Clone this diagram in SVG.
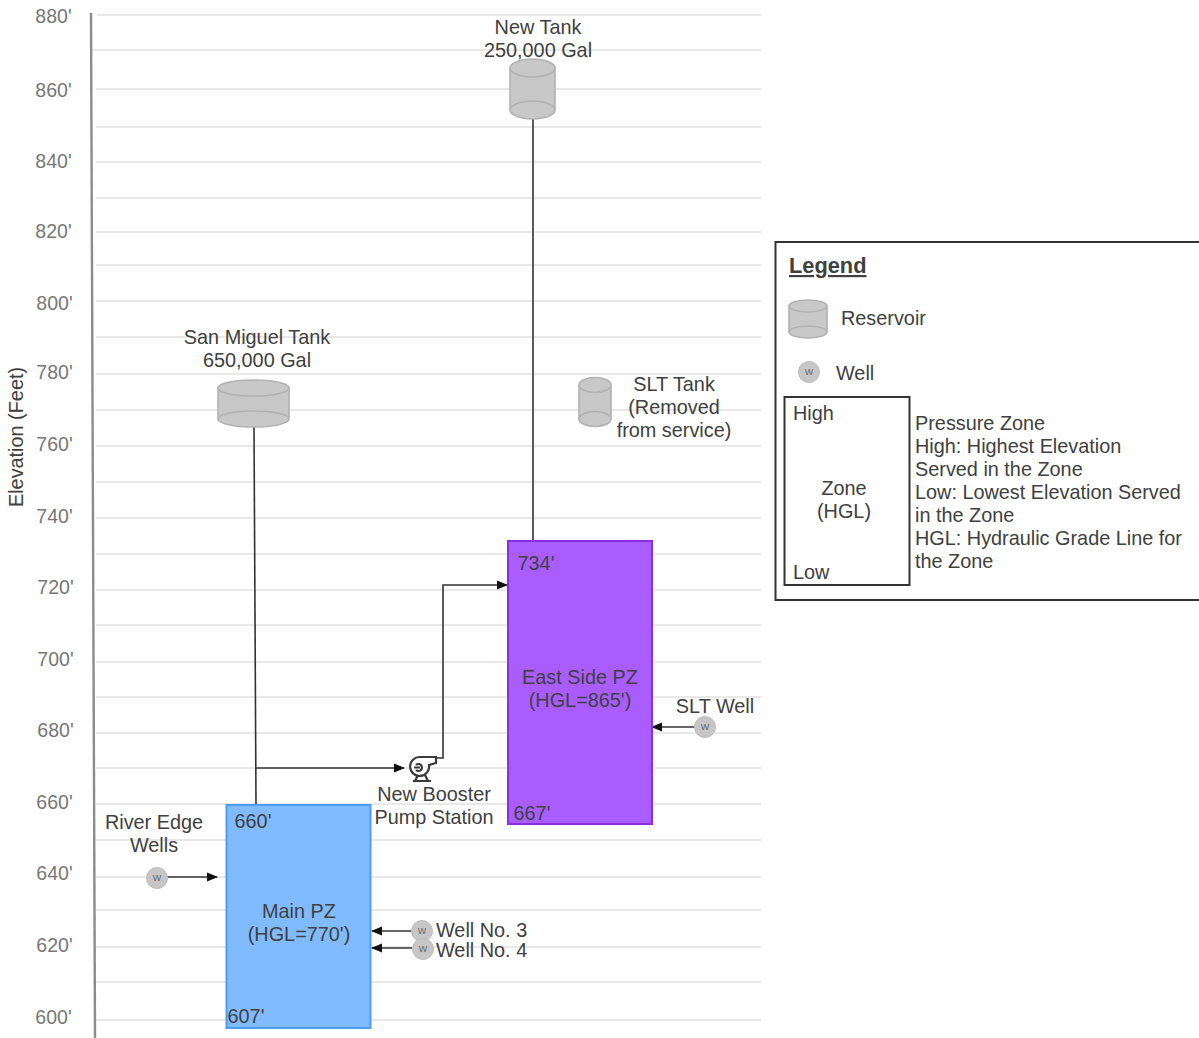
<svg xmlns="http://www.w3.org/2000/svg" width="1199" height="1038" viewBox="0 0 1199 1038">
<defs>
<style>
text{font-family:"Liberation Sans",Arial,sans-serif;font-size:19.85px;fill:#404040;text-anchor:middle}
.ax{fill:#777;font-size:19.5px}
.l{text-anchor:start}
.grid line{stroke:#e0e0e0;stroke-width:1.6}
.conn{fill:none;stroke:#333;stroke-width:1.6}
.tk{fill:#c8c8c8;stroke:#b2b2b2;stroke-width:1.6}
.tl{fill:none;stroke:#b2b2b2;stroke-width:1.6}
.w{fill:#c6c6c6;stroke:#bcbcbc;stroke-width:1}
.wt{font-size:9px;fill:#666}
</style>
<marker id="a" markerWidth="11" markerHeight="10" refX="10" refY="5" orient="auto" markerUnits="userSpaceOnUse"><path d="M0 0.500L11 5L0 9.500Z" fill="#111"/></marker>
</defs>
<rect width="1199" height="1038" fill="#fff"/>
<g class="grid" id="gridlines">
<line x1="97" y1="15" x2="761" y2="15"/><line x1="92" y1="50" x2="761" y2="50"/><line x1="96" y1="89" x2="761" y2="89"/><line x1="96" y1="127" x2="761" y2="127"/><line x1="96" y1="162" x2="761" y2="162"/><line x1="96" y1="198" x2="761" y2="198"/><line x1="96" y1="232" x2="761" y2="232"/><line x1="96" y1="265" x2="761" y2="265"/><line x1="96" y1="301" x2="761" y2="301"/><line x1="96" y1="337" x2="761" y2="337"/><line x1="96" y1="374" x2="761" y2="374"/><line x1="96" y1="410" x2="761" y2="410"/><line x1="96" y1="446" x2="761" y2="446"/><line x1="96" y1="482" x2="761" y2="482"/><line x1="96" y1="518" x2="761" y2="518"/><line x1="96" y1="554" x2="761" y2="554"/><line x1="96" y1="590" x2="761" y2="590"/><line x1="96" y1="625" x2="761" y2="625"/><line x1="96" y1="662" x2="761" y2="662"/><line x1="96" y1="697" x2="761" y2="697"/><line x1="96" y1="733" x2="761" y2="733"/><line x1="96" y1="768" x2="761" y2="768"/><line x1="96" y1="804" x2="761" y2="804"/><line x1="96" y1="840" x2="761" y2="840"/><line x1="96" y1="877" x2="761" y2="877"/><line x1="96" y1="910" x2="761" y2="910"/><line x1="96" y1="947" x2="761" y2="947"/><line x1="96" y1="982" x2="761" y2="982"/><line x1="96" y1="1020" x2="761" y2="1020"/>
</g>
<g id="axis">
<line x1="91" y1="13" x2="95" y2="1038" stroke="#8c8c8c" stroke-width="2.4"/>
<text class="ax" x="53.500" y="23">880'</text><text class="ax" x="53.500" y="97">860'</text><text class="ax" x="53.500" y="168">840'</text><text class="ax" x="53.500" y="238">820'</text><text class="ax" x="54.500" y="310">800'</text><text class="ax" x="54.500" y="379">780'</text><text class="ax" x="54.500" y="451">760'</text><text class="ax" x="54.500" y="523">740'</text><text class="ax" x="55.500" y="594">720'</text><text class="ax" x="55.500" y="666">700'</text><text class="ax" x="55.500" y="737">680'</text><text class="ax" x="54.500" y="809">660'</text><text class="ax" x="54.500" y="880">640'</text><text class="ax" x="54.500" y="952">620'</text><text class="ax" x="53.500" y="1024">600'</text>
<text x="23" y="437" transform="rotate(-90 23 437)">Elevation (Feet)</text>
</g>
<g class="conn" id="connectors">
<path d="M533 118V541"/>
<path d="M254 426L256 805"/>
<path d="M256 768H404" marker-end="url(#a)"/>
<path d="M436 758H443V585H507" marker-end="url(#a)"/>
<path d="M165 877H217" marker-end="url(#a)"/>
<path d="M412 931H372" marker-end="url(#a)"/>
<path d="M412 948H372" marker-end="url(#a)"/>
<path d="M695 727H652" marker-end="url(#a)"/>
</g>
<g id="main-pz"><rect x="226.500" y="805" width="144" height="223" fill="#80bbff" stroke="#4a9df5" stroke-width="2"/><text x="299" y="918">Main PZ</text><text x="299" y="941">(HGL=770')</text><text x="253" y="828" fill="#222">660'</text><text x="246" y="1023" fill="#1d2f55">607'</text></g>
<g id="east-pz"><rect x="508" y="541" width="144" height="283" fill="#a95cff" stroke="#8a2fe0" stroke-width="2"/><text x="580" y="684" fill="#2c1a4a">East Side PZ</text><text x="580" y="707" fill="#2c1a4a">(HGL=865')</text><text x="536" y="570" fill="#2c1a4a">734'</text><text x="532" y="820" fill="#2c1a4a">667'</text></g>
<g id="new-tank"><path class="tk" d="M510 68V110A22.500 9 0 0 0 555 110V68Z"/><ellipse class="tk" cx="532.500" cy="68" rx="22.500" ry="9"/><path class="tl" d="M510 110A22.500 9 0 0 1 555 110"/><text x="538" y="34">New Tank</text><text x="538" y="57">250,000 Gal</text></g>
<g id="san-miguel-tank"><path class="tk" d="M218 388V419A35.500 8 0 0 0 289 419V388Z"/><ellipse class="tk" cx="253.500" cy="388" rx="35.500" ry="8"/><path class="tl" d="M218 419A35.500 8 0 0 1 289 419"/><text x="257" y="344">San Miguel Tank</text><text x="257" y="367">650,000 Gal</text></g>
<g id="slt-tank"><path class="tk" d="M579 385V419A16 7.500 0 0 0 611 419V385Z"/><ellipse class="tk" cx="595" cy="385" rx="16" ry="7.500"/><path class="tl" d="M579 419A16 7.500 0 0 1 611 419"/><text x="674" y="391">SLT Tank</text><text x="674" y="414">(Removed</text><text x="674" y="437">from service)</text></g>
<g id="booster-pump"><g fill="none" stroke="#3a3a3a" stroke-width="2.200"><path d="M420 757H436V763L429 765A9.500 9.500 0 1 1 420 757Z" fill="#fff"/><path d="M416 765A3.500 3.500 0 1 1 416 770M414 767.500H420"/><path d="M413 781H431M418 775L415 781M425 775L428 781"/></g><text x="434" y="801">New Booster</text><text x="434" y="824">Pump Station</text></g>
<g id="river-edge-wells"><circle class="w" cx="157" cy="878" r="10.500"/><text class="wt" x="157" y="881">W</text><text x="154" y="829">River Edge</text><text x="154" y="852">Wells</text></g>
<g id="well-3"><circle class="w" cx="422" cy="931" r="10.500"/><text class="wt" x="422" y="934">W</text><text class="l" x="436" y="937">Well No. 3</text></g>
<g id="well-4"><circle class="w" cx="423" cy="949" r="10.500"/><text class="wt" x="423" y="952">W</text><text class="l" x="436" y="957">Well No. 4</text></g>
<g id="slt-well"><circle class="w" cx="705" cy="727" r="10.500"/><text class="wt" x="705" y="730">W</text><text x="715" y="713">SLT Well</text></g>
<g id="legend">
<rect x="775.500" y="242" width="440" height="358" fill="#fff" stroke="#333" stroke-width="2"/>
<text class="l" x="789" y="273" style="font-weight:bold;font-size:21.800px;text-decoration:underline" fill="#222">Legend</text>
<path class="tk" d="M789 306V332A19 6 0 0 0 827 332V306Z"/><ellipse class="tk" cx="808" cy="306" rx="19" ry="6"/><path class="tl" d="M789 332A19 6 0 0 1 827 332"/>
<text class="l" x="841" y="325">Reservoir</text>
<circle class="w" cx="809" cy="372" r="10.500"/><text class="wt" x="809" y="375">W</text>
<text class="l" x="836" y="380">Well</text>
<rect x="784.500" y="397" width="125" height="188" fill="#fff" stroke="#333" stroke-width="2"/>
<text class="l" x="793" y="420">High</text><text x="844" y="495">Zone</text><text x="844" y="518">(HGL)</text><text class="l" x="793" y="579">Low</text>
<text class="l" x="915" y="430">Pressure Zone</text><text class="l" x="915" y="453">High: Highest Elevation</text><text class="l" x="915" y="476">Served in the Zone</text><text class="l" x="915" y="499">Low: Lowest Elevation Served</text><text class="l" x="915" y="522">in the Zone</text><text class="l" x="915" y="545">HGL: Hydraulic Grade Line for</text><text class="l" x="915" y="568">the Zone</text>
</g>
</svg>
